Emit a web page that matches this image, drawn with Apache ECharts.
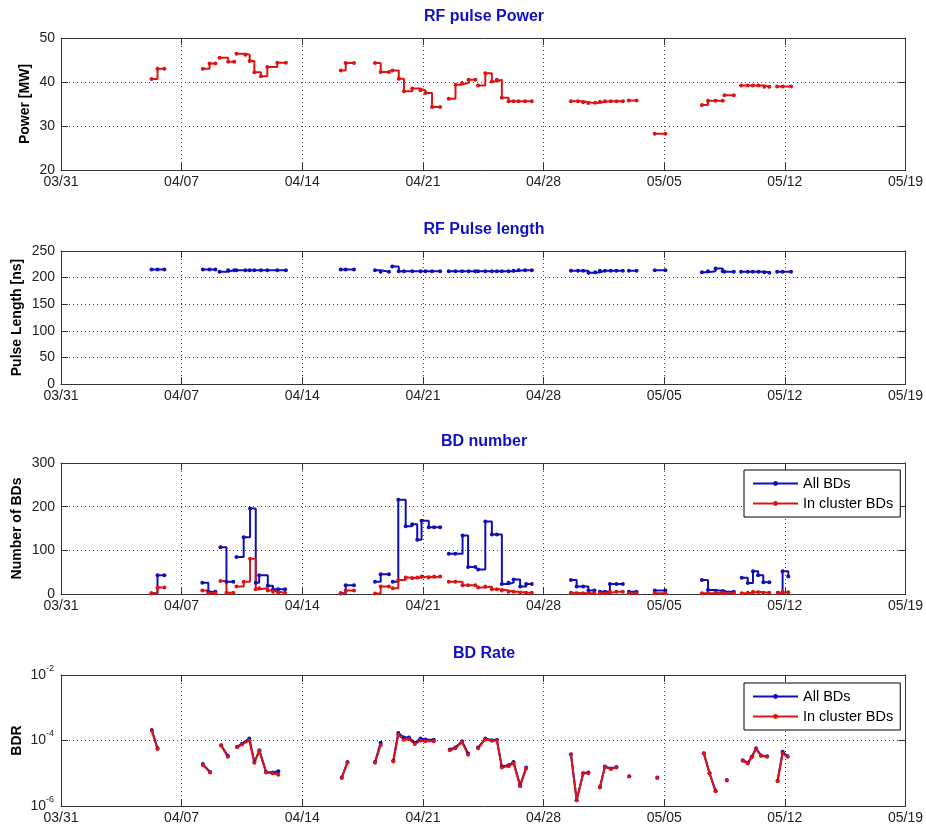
<!DOCTYPE html>
<html><head><meta charset="utf-8">
<script src="https://cdn.jsdelivr.net/npm/echarts@6/dist/echarts.min.js"></script>
<style>html,body{margin:0;padding:0;background:#fff}#c{width:926px;height:825px}</style>
</head><body><div id="c"></div><script>
// ---- tick labels / titles ----
const dateLabels = ['03/31','04/07','04/14','04/21','04/28','05/05','05/12','05/19'];
const panelTitles = ['RF pulse Power','RF Pulse length','BD number','BD Rate'];
const yNames = ['Power [MW]','Pulse Length [ns]','Number of BDs','BDR'];
const seriesNames = ['All BDs','In cluster BDs'];

// ---- data (x = days since 03/31; null = gap between runs) ----
const runDays = [5.25,5.6,6.0, 6.0, 8.23,8.62,8.96, 8.96, 9.2,9.7,10.05, 10.05, 10.18,10.7,10.95,11.22,11.6,11.97,12.55,13.05, 13.05, 16.23,16.52,17.0, 17.0, 18.22,18.55,19.03, 19.03, 19.22,19.6,19.9,20.38,20.86,21.15,21.53,22.0, 22.0, 22.5,22.89,23.27,23.65,24.04, 24.04, 24.2,24.62,25.0,25.29,25.58,25.97,26.26,26.55,26.93,27.32, 27.32, 29.59,30.0,30.3,30.6,31.0,31.27,31.56,31.9,32.23,32.6, 32.6, 32.95,33.4, 33.4, 34.45,35.07, 35.07, 37.19,37.54,37.98,38.4, 38.4, 38.5,39.04, 39.04, 39.46,39.85,40.14,40.47,40.81,41.1, 41.1, 41.55,41.87,42.36];
const powerMW = [40.7,43.0,43.0,null, 43.0,44.2,44.2,null, 45.5,44.6,44.6,null, 46.4,46.2,44.8,42.2,41.3,43.4,44.4,44.4,null, 42.6,44.3,44.3,null, 44.3,42.3,42.3,null, 42.6,40.75,37.9,38.5,38.1,37.5,34.3,34.3,null, 36.2,39.4,39.8,40.5,40.5,null, 39.2,42.0,40.1,40.5,36.4,35.6,35.6,35.6,35.6,35.6,null, 35.6,35.6,35.4,35.2,35.3,35.5,35.6,35.6,35.6,35.6,null, 35.8,35.8,null, 28.25,28.25,null, 34.8,35.75,35.75,35.75,null, 37.0,37.0,null, 39.2,39.2,39.2,39.2,38.9,38.9,null, 39.0,39.0,39.0];
const pulseNs = [215,215,215,null, 215,215,215,null, 211,214,214,null, 214,214,214,214,214,214,214,214,null, 215,215,215,null, 214,211,211,null, 221,212,212,212,212,212,212,212,null, 212,212,212,212,212,null, 212,212,212,212,212,212,213,214,214,214,null, 213,213,213,209,210,213,213,213,213,213,null, 213,213,null, 214,214,null, 210,212,217,212,null, 211,211,null, 211,211,211,211,210,209,null, 211,211,211];

const bdDays = [5.25,5.6,6.0, 6.0, 8.2,8.55,8.96, 8.96, 9.25,9.6,10.0, 10.0, 10.18,10.6,10.97,11.3,11.5,12.0,12.3,12.6,13.0, 13.0, 16.23,16.52,17.0, 17.0, 18.22,18.55,19.03, 19.03, 19.25,19.57,20.0,20.38,20.67,20.92,21.34,21.65,22.0, 22.0, 22.5,22.88,23.3,23.62,24.04, 24.04, 24.2,24.62,25.0,25.29,25.58,25.97,26.26,26.64,26.99,27.32, 27.32, 29.59,29.92,30.3,30.6,30.95, 30.95, 31.27,31.56,31.85,32.23,32.6, 32.6, 32.95,33.39, 33.39, 34.45,35.07, 35.07, 37.19,37.54,37.98,38.4, 38.4, 38.5,39.04, 39.04, 39.5,39.85,40.15,40.45,40.75,41.1, 41.1, 41.6,41.87,42.2];
const bdAll = [2,43,43,null, 26,5,5,null, 107,28,28,null, 85,130,196,26,43,19,11,11,11,null, 2,20,20,null, 28,45,45,null, 28,216,155,160,124,168,153,153,153,null, 92,92,134,62,62,null, 56,166,136,136,23,26,33,17,23,23,null, 32,17,17,8,8,null, 5,5,23,23,23,null, 5,5,null, 8,8,null, 32,9,7,7,null, 5,5,null, 37,25,52,43,27,27,null, 3,52,40];
const bdCluster = [1,15,15,null, 8,2,2,null, 30,3,3,null, 17,28,81,11,13,8,5,3,3,null, 1,8,8,null, 1,17,17,null, 13,32,38,36,38,40,38,40,40,null, 28,28,20,20,20,null, 15,17,11,11,8,5,5,3,3,3,null, 3,2,2,2,2,null, 2,2,5,5,5,null, 2,2,null, 2,2,null, 2,2,3,3,null, 2,2,null, 2,3,5,4,3,3,null, 2,5,4];

const rateDays = [5.27,5.6, 7, 8.23,8.65, 9, 9.29,9.68, 10, 10.22,10.5,10.93,11.22,11.51,11.9,12.28,12.61, 15, 16.29,16.62, 17.6, 18.22,18.55, 19, 19.28,19.57,19.9,20.19,20.53,20.86,21.15,21.63, 22.2, 22.56,22.88,23.27,23.62, 24, 24.2,24.62,25.0,25.29,25.58,25.97,26.26,26.64,26.99, 28.5, 29.59,29.92,30.3,30.6, 31, 31.27,31.56,31.9,32.23, 32.6, 32.97, 34, 34.6, 36, 37.3,37.63,37.98, 38.3, 38.63, 39.2, 39.56,39.85,40.08,40.33,40.62,40.97, 41.3, 41.58,41.87,42.16];
const rateAll = [2.1e-4,5.8e-5,null, 1.9e-5,1.1e-5,null, 7.2e-5,3.4e-5,null, 6.4e-5,8.0e-5,1.15e-4,2.2e-5,5.0e-5,1.1e-5,1.05e-5,1.15e-5,null, 7.4e-6,2.2e-5,null, 2.2e-5,8.5e-5,null, 2.4e-5,1.7e-4,1.23e-4,1.23e-4,8.5e-5,1.15e-4,1.08e-4,1.05e-4,null, 5.3e-5,6.1e-5,9.5e-5,4.0e-5,null, 6.1e-5,1.15e-4,1.02e-4,1.05e-4,1.6e-5,1.75e-5,2.2e-5,4.3e-6,1.5e-5,null, 3.8e-5,1.5e-6,1.0e-5,1.05e-5,null, 3.8e-6,1.6e-5,1.4e-5,1.55e-5,null, 8.1e-6,null, 7.4e-6,null, 4.1e-5,1.0e-5,2.9e-6,null, 6.2e-6,null, 2.5e-5,2.1e-5,3.2e-5,5.8e-5,3.5e-5,3.3e-5,null, 5.9e-6,4.5e-5,3.3e-5];
const rateCluster = [2.0e-4,5.5e-5,null, 1.8e-5,1.05e-5,null, 7.0e-5,3.2e-5,null, 6.2e-5,7.6e-5,1.0e-4,2.1e-5,4.8e-5,1.05e-5,1.0e-5,9.0e-6,null, 7.2e-6,2.1e-5,null, 2.1e-5,7.2e-5,null, 2.3e-5,1.5e-4,1.05e-4,1.1e-4,7.8e-5,1.0e-4,9.5e-5,9.5e-5,null, 5.0e-5,5.8e-5,8.8e-5,3.7e-5,null, 5.8e-5,1.08e-4,9.8e-5,1.0e-4,1.5e-5,1.65e-5,2.0e-5,4.0e-6,1.4e-5,null, 3.7e-5,1.5e-6,1.0e-5,1.0e-5,null, 3.7e-6,1.55e-5,1.35e-5,1.5e-5,null, 8.0e-6,null, 7.2e-6,null, 4.0e-5,1.0e-5,2.8e-6,null, 6.0e-6,null, 2.4e-5,2.0e-5,3.1e-5,5.5e-5,3.4e-5,3.2e-5,null, 5.8e-6,4.0e-5,3.2e-5];

// ---- layout / style ----
const FONT = '"Liberation Sans", Arial, Helvetica, sans-serif';
const BLUE = '#1010b8', RED = '#dc1414', TITLE = '#1010c8', AX = '#333';
const gridBoxes = [{top:38,height:132},{top:251,height:133},{top:463,height:131},{top:675,height:131}];
const yScales = [
  {type:'value', min:20, max:50, interval:10},
  {type:'value', min:0, max:250, interval:50},
  {type:'value', min:0, max:300, interval:100},
  {type:'log', min:1e-6, max:1e-2, logBase:100}
];
const nameGaps = [29, 37, 37, 37];

function pairs(xs, ys){ return xs.map((x,i)=>[x, ys[i]]); }

const grid = gridBoxes.map(g=>({left:61, width:846, top:g.top, height:g.height, containLabel:false}));
const xAxis = [], yAxis = [];
gridBoxes.forEach((g,i)=>{
  const common = {gridIndex:i, type:'value', min:0, max:49, interval:7,
    axisLine:{show:true, onZero:false, lineStyle:{color:AX, width:1}},
    axisTick:{show:true, inside:true, length:7, lineStyle:{color:AX}}};
  xAxis.push(Object.assign({}, common, {position:'bottom',
    axisLabel:{show:true, margin:5, fontSize:14, color:'#222', fontFamily:FONT,
      formatter:v=>dateLabels[Math.round(v/7)]||''},
    splitLine:{show:true, lineStyle:{color:'#444', type:[1,3], width:1}}}));
  xAxis.push(Object.assign({}, common, {position:'top', axisLabel:{show:false}, splitLine:{show:false}}));
  const ys = yScales[i];
  const isLog = ys.type==='log';
  const ycommon = Object.assign({gridIndex:i}, ys, {
    axisLine:{show:true, onZero:false, lineStyle:{color:AX, width:1}},
    axisTick:{show:true, inside:true, length:7, lineStyle:{color:AX}}});
  const label = isLog ? {
      show:true, margin:7, color:'#222', fontFamily:FONT,
      formatter:v=>{const e=Math.round(Math.log10(v)); return '{b|10}{s|'+e+'}';},
      rich:{b:{fontSize:14, lineHeight:22, fontFamily:FONT, color:'#222'},
            s:{fontSize:9, verticalAlign:'top', fontFamily:FONT, color:'#222'}}
    } : {show:true, margin:6, fontSize:14, color:'#222', fontFamily:FONT};
  yAxis.push(Object.assign({}, ycommon, {position:'left', axisLabel:label,
    name:yNames[i], nameLocation:'middle', nameGap:nameGaps[i], nameMoveOverlap:false,
    nameTextStyle:{fontWeight:'bold', fontSize:14, color:'#000', fontFamily:FONT},
    splitLine:{show:true, lineStyle:{color:'#444', type:[1,3], width:1}}}));
  yAxis.push(Object.assign({}, ycommon, {position:'right', axisLabel:{show:false}, splitLine:{show:false}}));
});

function stairs(name, xs, ys, gi, color){
  return {name, type:'line', xAxisIndex:gi*2, yAxisIndex:gi*2, step:'end',
    data:pairs(xs, ys), connectNulls:false, symbol:'circle', symbolSize:4, showSymbol:true,
    lineStyle:{color, width:2}, itemStyle:{color}, emphasis:{disabled:true}, animation:false};
}
function plain(name, xs, ys, gi, color){
  return {name, type:'line', xAxisIndex:gi*2, yAxisIndex:gi*2,
    data:pairs(xs, ys), connectNulls:false, symbol:'circle', symbolSize:4, showSymbol:true,
    lineStyle:{color, width:2}, itemStyle:{color}, emphasis:{disabled:true}, animation:false};
}

const series = [
  stairs('Power', runDays, powerMW, 0, RED),
  stairs('Pulse length', runDays, pulseNs, 1, BLUE),
  stairs(seriesNames[0], bdDays, bdAll, 2, BLUE),
  stairs(seriesNames[1], bdDays, bdCluster, 2, RED),
  plain(seriesNames[0], rateDays, rateAll, 3, BLUE),
  plain(seriesNames[1], rateDays, rateCluster, 3, RED)
];

const legendBase = {orient:'vertical', data:seriesNames, backgroundColor:'#fff',
  borderColor:'#000', borderWidth:1, borderRadius:0, padding:[6,7,6,8], itemGap:5,
  itemWidth:45, itemHeight:6, selectedMode:false,
  textStyle:{fontSize:14.5, color:'#000', fontFamily:FONT}};
const legend = [
  Object.assign({}, legendBase, {left:744, top:470}),
  Object.assign({}, legendBase, {left:744, top:683})
];

const graphic = panelTitles.map((t,i)=>({type:'text', x:484, y:gridBoxes[i].top-21,
  style:{text:t, fill:TITLE, font:'bold 16px '+FONT, align:'center', verticalAlign:'middle'}}));

const chart = echarts.init(document.getElementById('c'), null, {renderer:'canvas'});
chart.setOption({animation:false, backgroundColor:'#fff', grid, xAxis, yAxis, series, legend, graphic, tooltip:{show:false}});
</script></body></html>
